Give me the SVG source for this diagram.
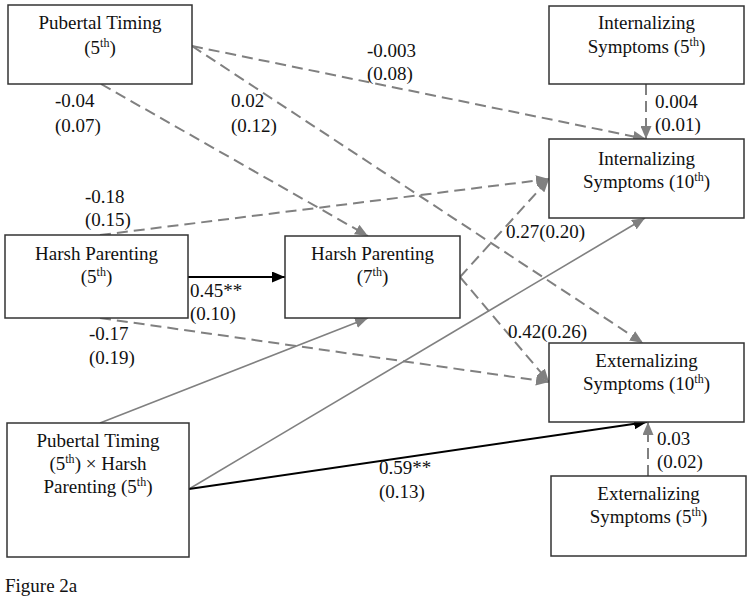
<svg xmlns="http://www.w3.org/2000/svg" width="751" height="605" viewBox="0 0 751 605">
<style>
text{font-family:'Liberation Serif','Times New Roman','DejaVu Serif',serif;font-size:19px;fill:#111}
.c{text-anchor:middle}
.sup{font-size:12px}
.box{fill:#fff;stroke:#333;stroke-width:1.5}
.gd{fill:none;stroke:#808080;stroke-width:2;stroke-dasharray:11,6}
.gs{fill:none;stroke:#808080;stroke-width:1.6}
.bs{fill:none;stroke:#000;stroke-width:2}
</style>
<defs>
<marker id="ag" markerUnits="userSpaceOnUse" markerWidth="13" markerHeight="11" refX="13" refY="5.5" orient="auto"><path d="M0,0 L13,5.5 L0,11 z" fill="#808080"/></marker>
<marker id="ab" markerUnits="userSpaceOnUse" markerWidth="13" markerHeight="11" refX="13" refY="5.5" orient="auto"><path d="M0,0 L13,5.5 L0,11 z" fill="#000"/></marker>
</defs>
<rect width="751" height="605" fill="#fff"/>
<g id="connectors">
<line class="gd" x1="192" y1="46" x2="646" y2="139" marker-end="url(#ag)"/>
<line class="gd" x1="192" y1="46" x2="643" y2="343" marker-end="url(#ag)"/>
<line class="gd" x1="101" y1="84" x2="368" y2="236" marker-end="url(#ag)"/>
<line class="gd" x1="100" y1="235" x2="549" y2="179" marker-end="url(#ag)"/>
<line class="bs" x1="188" y1="277" x2="285" y2="277" marker-end="url(#ab)"/>
<line class="gd" x1="100" y1="318" x2="549" y2="382" marker-end="url(#ag)"/>
<line class="gd" x1="460" y1="277" x2="549" y2="179" marker-end="url(#ag)"/>
<line class="gd" x1="460" y1="277" x2="549" y2="382" marker-end="url(#ag)"/>
<line class="gs" x1="100" y1="423" x2="368" y2="318" marker-end="url(#ag)"/>
<line class="gs" x1="189" y1="489" x2="645" y2="218" marker-end="url(#ag)"/>
<line class="bs" x1="189" y1="489" x2="647" y2="422" marker-end="url(#ab)"/>
<line class="gd" x1="646" y1="84" x2="646" y2="139" marker-end="url(#ag)"/>
<line class="gd" x1="648" y1="476" x2="648" y2="422" marker-end="url(#ag)"/>
</g>
<g id="n_pt5">
<rect class="box" x="8" y="5" width="184" height="79"/>
<text class="c" x="100" y="29">Pubertal Timing</text>
<text class="c" x="100" y="54">(5<tspan class="sup" dy="-7">th</tspan><tspan dy="7">)</tspan></text>
</g>
<g id="n_int5">
<rect class="box" x="549" y="6" width="195" height="78"/>
<text class="c" x="646.5" y="29">Internalizing</text>
<text class="c" x="646.5" y="53">Symptoms (5<tspan class="sup" dy="-7">th</tspan><tspan dy="7">)</tspan></text>
</g>
<g id="n_int10">
<rect class="box" x="549" y="139" width="195" height="79"/>
<text class="c" x="646.5" y="165">Internalizing</text>
<text class="c" x="646.5" y="188">Symptoms (10<tspan class="sup" dy="-7">th</tspan><tspan dy="7">)</tspan></text>
</g>
<g id="n_hp5">
<rect class="box" x="5" y="235" width="183" height="83"/>
<text class="c" x="96.5" y="260">Harsh Parenting</text>
<text class="c" x="96.5" y="283">(5<tspan class="sup" dy="-7">th</tspan><tspan dy="7">)</tspan></text>
</g>
<g id="n_hp7">
<rect class="box" x="285" y="236" width="175" height="82"/>
<text class="c" x="372.5" y="260">Harsh Parenting</text>
<text class="c" x="372.5" y="283">(7<tspan class="sup" dy="-7">th</tspan><tspan dy="7">)</tspan></text>
</g>
<g id="n_ext10">
<rect class="box" x="549" y="343" width="195" height="79"/>
<text class="c" x="646.5" y="367">Externalizing</text>
<text class="c" x="646.5" y="390">Symptoms (10<tspan class="sup" dy="-7">th</tspan><tspan dy="7">)</tspan></text>
</g>
<g id="n_inter">
<rect class="box" x="7" y="423" width="182" height="134"/>
<text class="c" x="98" y="447">Pubertal Timing</text>
<text class="c" x="98" y="470">(5<tspan class="sup" dy="-7">th</tspan><tspan dy="7">) × Harsh</tspan></text>
<text class="c" x="98" y="493">Parenting (5<tspan class="sup" dy="-7">th</tspan><tspan dy="7">)</tspan></text>
</g>
<g id="n_ext5">
<rect class="box" x="551" y="476" width="195" height="80"/>
<text class="c" x="648.5" y="500">Externalizing</text>
<text class="c" x="648.5" y="523">Symptoms (5<tspan class="sup" dy="-7">th</tspan><tspan dy="7">)</tspan></text>
</g>
<g id="labels">
<text x="55" y="107">-0.04</text>
<text x="55" y="132">(0.07)</text>
<text x="231" y="107">0.02</text>
<text x="231" y="132">(0.12)</text>
<text x="367" y="57">-0.003</text>
<text x="367" y="80">(0.08)</text>
<text x="655" y="108">0.004</text>
<text x="655" y="131">(0.01)</text>
<text x="85" y="203">-0.18</text>
<text x="85" y="226">(0.15)</text>
<text x="190" y="297">0.45**</text>
<text x="190" y="320">(0.10)</text>
<text x="89" y="340">-0.17</text>
<text x="89" y="364">(0.19)</text>
<text x="506" y="238">0.27(0.20)</text>
<text x="508" y="338">0.42(0.26)</text>
<text x="379" y="474">0.59**</text>
<text x="379" y="498">(0.13)</text>
<text x="657" y="445">0.03</text>
<text x="657" y="468">(0.02)</text>
<text x="5" y="592">Figure 2a</text>
</g>
</svg>
